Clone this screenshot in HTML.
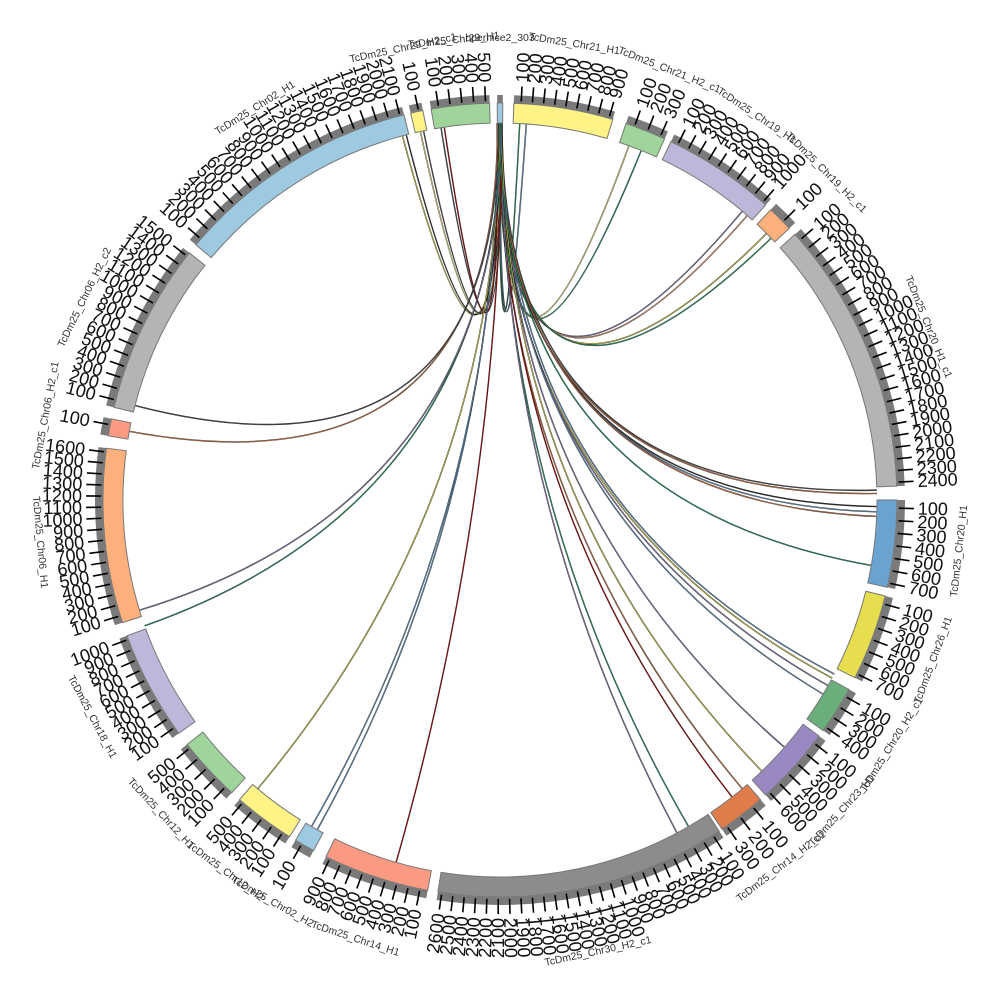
<!DOCTYPE html>
<html><head><meta charset="utf-8"><style>
html,body{margin:0;padding:0;background:#fff;}
svg{display:block;font-family:"Liberation Sans",sans-serif;}
</style></head><body>
<svg id="s" width="1000" height="1000" viewBox="0 0 1000 1000" xmlns="http://www.w3.org/2000/svg"></svg>
<script>
var S=document.getElementById('s');
var NS='http://www.w3.org/2000/svg';
var CX=500,CY=500,R0=377,R1=397,RG=405,RT=414,RL=418,RN=462;
function P(a,r){var t=a*Math.PI/180;return [CX+r*Math.sin(t),CY-r*Math.cos(t)];}
function el(n,at,txt){var e=document.createElementNS(NS,n);for(var k in at)e.setAttribute(k,at[k]);if(txt!=null)e.textContent=txt;S.appendChild(e);return e;}
function arcPath(a0,a1,r0,r1){var p0=P(a0,r1),p1=P(a1,r1),p2=P(a1,r0),p3=P(a0,r0);var lg=(a1-a0)>180?1:0;
return 'M'+p0+' A'+r1+' '+r1+' 0 '+lg+' 1 '+p1+' L'+p2+' A'+r0+' '+r0+' 0 '+lg+' 0 '+p3+' Z';}
var segs=[
['bpernice2_303',359.6,0.4,'#9ecae1',0],
['TcDm25_Chr21_H1',2,16.5,'#fff385',900],
['TcDm25_Chr21_H2_c1',18.5,24.5,'#9fd59b',300],
['TcDm25_Chr19_H1',25.5,42,'#bcb8da',1000],
['TcDm25_Chr19_H2_c1',43,46.8,'#fdb07b',100],
['TcDm25_Chr20_H1_c1',48,88,'#b4b4b4',2400],
['TcDm25_Chr20_H1',90,102.7,'#6aa2d0',700],
['TcDm25_Chr26_H1',104,116.6,'#e6de4f',700],
['TcDm25_Chr20_H2_c1',118.5,125.5,'#6aae7c',400],
['TcDm25_Chr23_H1',126.5,138,'#9a88c2',600],
['TcDm25_Chr14_H2_c1',139,146,'#e07b4a',300],
['TcDm25_Chr30_H2_c1',146.5,189,'#8c8c8c',2600],
['TcDm25_Chr14_H1',190.5,206,'#fb9a82',900],
['TcDm25_Chr02_H2',208,211,'#9ecae1',100],
['TcDm25_Chr12_H2',212,221,'#fff385',500],
['TcDm25_Chr12_H1',222.5,232,'#9fd59b',500],
['TcDm25_Chr18_H1',234,250,'#bcb8da',1000],
['TcDm25_Chr06_H1',252,277.5,'#fdb07b',1600],
['TcDm25_Chr06_H2_c1',279.3,281.8,'#fb9a82',100],
['TcDm25_Chr06_H2_c2',283.5,308.5,'#b4b4b4',1500],
['TcDm25_Chr02_H1',310,346,'#9ecae1',2100],
['TcDm25_Chr29_H2_c1',347,348.8,'#fff385',100],
['TcDm25_Chr29_H1',350,358.5,'#9fd59b',500]
];
var links=[
[345,'#e6de4f'],[345.6,'#333'],[347.8,'#fff385'],[348.3,'#555'],[351,'#555'],[351.5,'#b00'],
[3,'#2a6'],[4,'#6aa2d0'],[20,'#fff385'],[22,'#2a6'],[40,'#9a88c2'],[41,'#fdb07b'],
[45,'#e6de4f'],[46,'#2a6'],[88.5,'#555'],[89,'#e07b4a'],[91,'#333'],[91.8,'#6aa2d0'],
[92.5,'#e07b4a'],[117.5,'#6aa2d0'],[118.2,'#e6de4f'],[119.5,'#9a88c2'],[121,'#6aa2d0'],
[131,'#9a88c2'],[136,'#e6de4f'],[140,'#e07b4a'],[142,'#b00'],[150,'#2a6'],[152,'#9a88c2'],
[196,'#b00'],[209,'#6aa2d0'],[210,'#6aa2d0'],[220,'#e6de4f'],[250.5,'#2a6'],
[253,'#9a88c2'],[280.5,'#e07b4a'],[284.5,'#555'],[100,'#2a6']
];
links.forEach(function(l,i){
  var a0=359.6+((i%5)*0.18);var s=P(a0,R0),e=P(l[0],R0);
  var d='M'+s+' Q'+CX+','+CY+' '+e;
  el('path',{d:d,fill:'none',stroke:'#222','stroke-width':1.4});
  el('path',{d:d,fill:'none',stroke:l[1],'stroke-width':0.6});
});
segs.forEach(function(g){
  var a0=g[1],a1=g[2];if(a1<a0)a1+=360;
  el('path',{d:arcPath(a0,a1,R0,R1),fill:g[3],stroke:'#777','stroke-width':1});
  el('path',{d:arcPath(a0,a1,R1,RG),fill:'#7a7a7a'});
  var n=g[4]/100;
  for(var k=1;k<=n;k++){
    var a=a0+(a1-a0)*(k-0.35)/n;
    var p=P(a,R1+2),q=P(a,RT);
    el('line',{x1:p[0],y1:p[1],x2:q[0],y2:q[1],stroke:'#000','stroke-width':1.6});
    var l=P(a,RL),am=((a%360)+360)%360;
    var right=am<180;
    var rot=right?am-90:am+90;
    el('text',{x:l[0],y:l[1],'font-size':18,'text-anchor':right?'start':'end','dominant-baseline':'central',fill:'#111',transform:'rotate('+rot+' '+l[0]+' '+l[1]+')'},String(k*100));
  }
  var m=(a0+a1)/2;var mm=((m%360)+360)%360;
  var pn=P(mm,RN);var bottom=Math.cos(mm*Math.PI/180)<0;
  var rr=bottom?mm-180:mm;
  el('text',{x:pn[0],y:pn[1],'font-size':10.5,'text-anchor':'middle','dominant-baseline':'central',fill:'#333',transform:'rotate('+rr+' '+pn[0]+' '+pn[1]+')'},g[0]);
});
</script>
</body></html>
